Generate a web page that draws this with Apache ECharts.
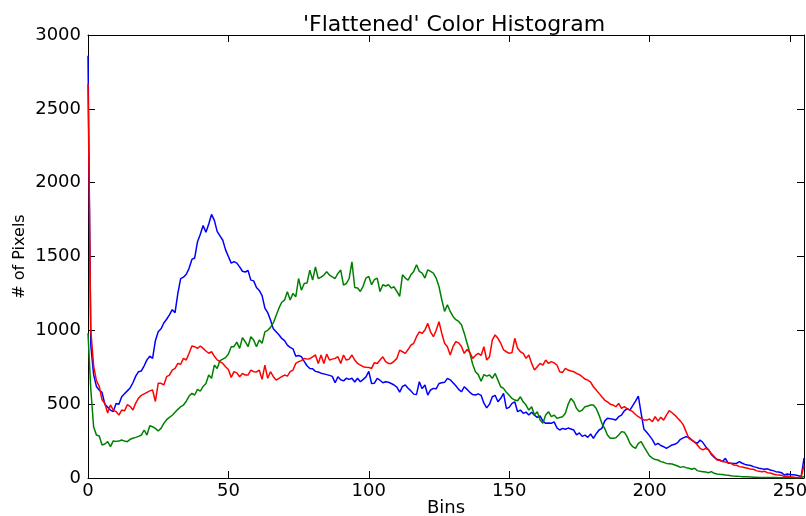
<!DOCTYPE html>
<html>
<head>
<meta charset="utf-8">
<script src="https://cdn.jsdelivr.net/npm/echarts@6/dist/echarts.min.js"></script>
<style>html,body{margin:0;padding:0;background:#fff;}#c{width:806px;height:516px;}</style>
</head>
<body>
<div id="c"></div>
<script>
const TITLE = "'Flattened' Color Histogram";
const X_NAME = "Bins";
const Y_NAME = "# of Pixels";
const X_TICKS = [0, 50, 100, 150, 200, 250];
const Y_TICKS = [0, 500, 1000, 1500, 2000, 2500, 3000];

const blue = [2860,900,700,620,595,580,500,480,460,450,505,500,550,570,590,610,645,690,720,725,
760,800,825,810,930,990,1010,1050,1075,1105,1140,1120,1250,1350,1360,1380,1420,1480,1490,1600,
1650,1710,1665,1720,1785,1745,1670,1640,1610,1545,1500,1455,1465,1455,1430,1400,1395,1405,1340,1335,
1290,1270,1235,1150,1120,1070,1010,990,970,945,930,900,885,875,825,830,822,790,760,742,
740,722,718,710,705,700,695,688,645,685,665,658,675,668,675,650,675,652,668,685,
722,640,642,675,662,645,652,648,640,630,615,582,620,630,608,590,568,566,652,605,
630,562,596,607,604,640,645,648,675,665,645,625,600,584,618,600,580,565,562,570,
560,507,475,500,550,560,516,540,573,471,478,505,516,449,460,438,446,426,445,425,
410,420,385,370,372,370,380,340,325,336,330,338,332,325,292,305,282,290,275,298,
268,300,325,336,385,404,402,398,393,415,426,455,470,460,490,520,555,438,330,310,
285,260,224,235,220,212,201,212,224,228,240,262,272,280,275,258,242,235,257,240,
212,192,160,140,128,122,111,133,100,100,98,100,111,100,92,88,85,77,72,66,
62,59,62,54,50,43,40,36,20,27,24,22,20,15,10,135];

const green = [980,600,347,291,285,224,230,246,212,251,248,250,257,250,246,262,269,275,282,291,
325,291,354,347,336,318,336,370,395,410,425,445,465,483,494,520,555,573,562,600,
589,620,640,697,675,765,742,795,805,815,840,889,889,920,878,951,923,889,957,935,
889,935,912,990,1000,1020,1050,1100,1150,1190,1205,1261,1205,1250,1227,1351,1272,1317,1320,1408,
1340,1430,1351,1360,1374,1396,1374,1362,1351,1385,1408,1306,1317,1351,1464,1290,1286,1263,1300,1354,
1365,1309,1343,1354,1263,1309,1300,1309,1286,1295,1263,1230,1376,1354,1340,1376,1399,1444,1399,1388,
1354,1410,1399,1388,1354,1297,1207,1128,1173,1128,1094,1072,1060,1038,981,913,846,770,720,700,
655,700,690,697,675,708,663,618,607,580,560,539,528,523,550,516,494,460,483,426,
449,392,370,426,449,415,426,404,410,415,438,500,539,516,471,449,460,483,488,494,
494,471,426,370,336,291,269,269,272,291,314,310,280,235,212,201,235,246,212,180,
150,135,125,122,111,106,99,97,95,88,81,72,77,70,66,59,66,50,45,43,
40,36,43,32,27,25,24,20,18,15,13,12,11,9,9,9,7,5,5,4,
4,4,3,3,3,3,2,2,2,2,2,2,2,2,3,10];

const red = [2670,1000,760,660,620,530,505,440,495,460,450,426,460,455,496,485,460,507,541,560,
570,580,590,596,518,641,641,630,686,697,731,742,776,770,810,799,845,894,889,878,
894,878,860,845,855,825,800,788,776,754,735,681,720,712,686,708,697,697,731,720,
718,730,668,765,675,720,686,663,675,686,697,690,720,731,776,788,795,810,805,808,
821,833,776,833,776,839,799,805,810,821,776,833,799,805,833,799,776,765,754,750,
749,742,781,776,799,821,788,776,776,790,810,866,855,844,870,900,912,957,990,979,
1002,1047,990,957,1000,1058,979,912,889,833,889,923,915,890,844,870,850,810,830,844,
830,889,799,821,935,969,946,912,867,855,844,850,946,878,855,844,810,833,776,731,
754,776,765,799,776,788,780,765,720,715,742,731,725,720,708,700,686,670,663,650,
618,596,573,550,528,516,500,494,483,505,471,483,470,460,449,430,415,404,392,392,
400,381,415,385,412,392,426,456,442,426,404,385,360,314,269,257,246,224,201,190,
201,190,165,145,122,120,111,108,104,99,88,86,77,74,70,66,60,59,50,45,
43,45,36,34,27,22,20,18,9,13,9,6,4,2,9,85];

const FONT = 'DejaVu Sans';
const toPairs = arr => arr.map((v, i) => [i, v]);

const chart = echarts.init(document.getElementById('c'), null, {renderer: 'canvas'});

const xCommon = {
  type: 'value', min: 0, max: 255, interval: 50,
  axisLine: {show: true, onZero: false, lineStyle: {color: '#000', width: 1}},
  axisTick: {show: true, inside: true, length: 7, lineStyle: {color: '#000', width: 1}},
  splitLine: {show: false}
};
const yCommon = {
  type: 'value', min: 0, max: 3000, interval: 500,
  axisLine: {show: true, onZero: false, lineStyle: {color: '#000', width: 1}},
  axisTick: {show: true, inside: true, length: 7, lineStyle: {color: '#000', width: 1}},
  splitLine: {show: false}
};

const labelFmtX = v => X_TICKS.includes(v) ? String(v) : '';
const labelFmtY = v => Y_TICKS.includes(v) ? String(v) : '';

chart.setOption({
  animation: false,
  backgroundColor: '#fff',
  title: {
    text: TITLE, left: 449, top: 9, textAlign: 'center',
    textStyle: {fontFamily: FONT, fontSize: 22, fontWeight: 'normal', color: '#000'}
  },
  grid: {left: 88, right: 2, top: 35, bottom: 38, containLabel: false, outerBoundsMode: 'none'},
  xAxis: [
    Object.assign({}, xCommon, {
      position: 'bottom',
      name: X_NAME, nameLocation: 'middle', nameGap: 21, nameMoveOverlap: false,
      nameTextStyle: {fontFamily: FONT, fontSize: 18, color: '#000'},
      axisLabel: {show: true, margin: 4, fontFamily: FONT, fontSize: 18, color: '#000',
        formatter: labelFmtX, showMaxLabel: false}
    }),
    Object.assign({}, xCommon, {position: 'top', axisLabel: {show: false}})
  ],
  yAxis: [
    Object.assign({}, yCommon, {
      position: 'left',
      name: Y_NAME, nameLocation: 'middle', nameGap: 60, nameRotate: 90, nameMoveOverlap: false,
      nameTextStyle: {fontFamily: FONT, fontSize: 16, color: '#000'},
      axisLabel: {show: true, margin: 7, fontFamily: FONT, fontSize: 18, color: '#000',
        formatter: labelFmtY}
    }),
    Object.assign({}, yCommon, {position: 'right', axisLabel: {show: false}})
  ],
  series: [
    {name: 'b', type: 'line', data: toPairs(blue), showSymbol: false, symbol: 'none',
      lineStyle: {color: '#0000ff', width: 1.5}, itemStyle: {color: '#0000ff'}},
    {name: 'g', type: 'line', data: toPairs(green), showSymbol: false, symbol: 'none',
      lineStyle: {color: '#008000', width: 1.5}, itemStyle: {color: '#008000'}},
    {name: 'r', type: 'line', data: toPairs(red), showSymbol: false, symbol: 'none',
      lineStyle: {color: '#ff0000', width: 1.5}, itemStyle: {color: '#ff0000'}}
  ]
});
</script>
</body>
</html>
